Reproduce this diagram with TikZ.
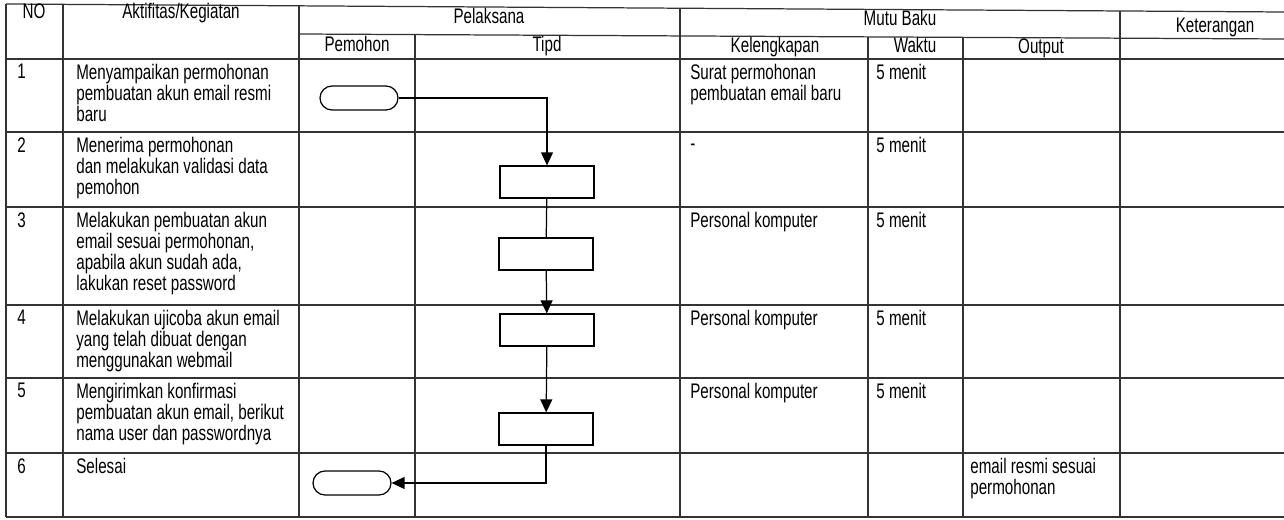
\documentclass[tikz,border=0pt]{standalone}
\usepackage{fontspec}
\setmainfont{Liberation Sans}[FakeStretch=0.72]
\usetikzlibrary{arrows.meta,shapes.misc}

\tikzset{
  rule/.style={line width=0.7pt, black!80},
  txt/.style={anchor=north west, inner sep=0pt, align=left,
    font=\fontsize{12}{12}\selectfont},
  hdr/.style={anchor=base, inner sep=0pt, font=\fontsize{12}{12}\selectfont},
  proc/.style={draw, line width=0.7pt, minimum width=1.88cm,
    minimum height=0.64cm, inner sep=0pt},
  term/.style={draw, line width=0.7pt, rounded rectangle,
    minimum width=1.56cm, minimum height=0.48cm, inner sep=0pt},
  flow/.style={line width=0.7pt}
}

\begin{document}
\begin{tikzpicture}[x=0.02cm, y=-0.02cm, >={Triangle[length=7.4pt,width=6.8pt]}]
\useasboundingbox (0,0) rectangle (1284,520);
%% table lines (scan is a bit skewed at the top)
\draw[rule] (6,4) -- (1284,12);
\draw[rule] (299,34) -- (1284,39);
\foreach\y in {59,132,207,305,378,453,517}
  \draw[rule] (6,\y) -- (1284,\y);
%
\foreach\x/\t in {6/4,63/4.4,299/5.8,680/8.2,1120/11}
  \draw[rule] (\x,\t) -- (\x,517);
\foreach\x/\t in {415/34.6,868/36.9,963/37.4}
  \draw[rule] (\x,\t) -- (\x,517);

% header
\node[hdr] (hno) at (34,19) {NO};
\node[hdr] (hakt) at (181,19) {Aktifitas/Kegiatan};
\node[hdr] (hpel) at (489,24) {Pelaksana};
\node[hdr] (hmutu) at (900,26) {Mutu Baku};
\node[hdr] (hket) at (1215,33) {Keterangan};
\node[hdr] (hpem) at (357,52) {Pemohon};
\node[hdr] (htipd) at (547,52) {Tipd};
\node[hdr] (hlengkap) at (775,53) {Kelengkapan};
\node[hdr] (hwaktu) at (915,53) {Waktu};
\node[hdr] (hout) at (1041,54) {Output};

% row numbers
\foreach\n/\y in {1/59,2/132,3/207,4/305,5/378,6/453}
  \node[txt] (no\n) at (17,\y+5) {\n};

% activities
\node[txt] (act1) at (76,64) {Menyampaikan permohonan\\pembuatan akun email resmi\\baru};
\node[txt] (act2) at (76,137) {Menerima permohonan\\dan melakukan validasi data\\pemohon};
\node[txt] (act3) at (76,212) {Melakukan pembuatan akun\\email sesuai permohonan,\\apabila akun sudah ada,\\lakukan reset password};
\node[txt] (act4) at (76,310) {Melakukan ujicoba akun email\\yang telah dibuat dengan\\menggunakan webmail};
\node[txt] (act5) at (76,383) {Mengirimkan konfirmasi\\pembuatan akun email, berikut\\nama user dan passwordnya};
\node[txt] (act6) at (76,458) {Selesai};

% mutu baku
\node[txt] (leng1) at (690,64) {Surat permohonan\\pembuatan email baru};
\node[txt] (leng2) at (690,144) {-};
\node[txt] (leng3) at (690,212) {Personal komputer};
\node[txt] (leng4) at (690,310) {Personal komputer};
\node[txt] (leng5) at (690,383) {Personal komputer};
\foreach\n/\y in {1/59,2/132,3/207,4/305,5/378}
  \node[txt] (wkt\n) at (876,\y+5) {5 menit};
\node[txt] (out6) at (970,458) {email resmi sesuai\\permohonan};

% flow
\node[term] (start) at (359,98) {};
\node[proc] (valid) at (547,182) {};
\node[proc] (create) at (546,254) {};
\node[proc] (test) at (547,330) {};
\node[proc] (send) at (546,429) {};
\node[term] (finish) at (352,483) {};
%
\draw[flow,->] (start.east) -| (valid.north);
\draw[flow] (valid) -- (create);
\draw[flow,->] (create) -- (test);
\draw[flow,->] (test) -- (send);
\draw[flow,->] (send.south) |- (finish.east);
\end{tikzpicture}
\end{document}
